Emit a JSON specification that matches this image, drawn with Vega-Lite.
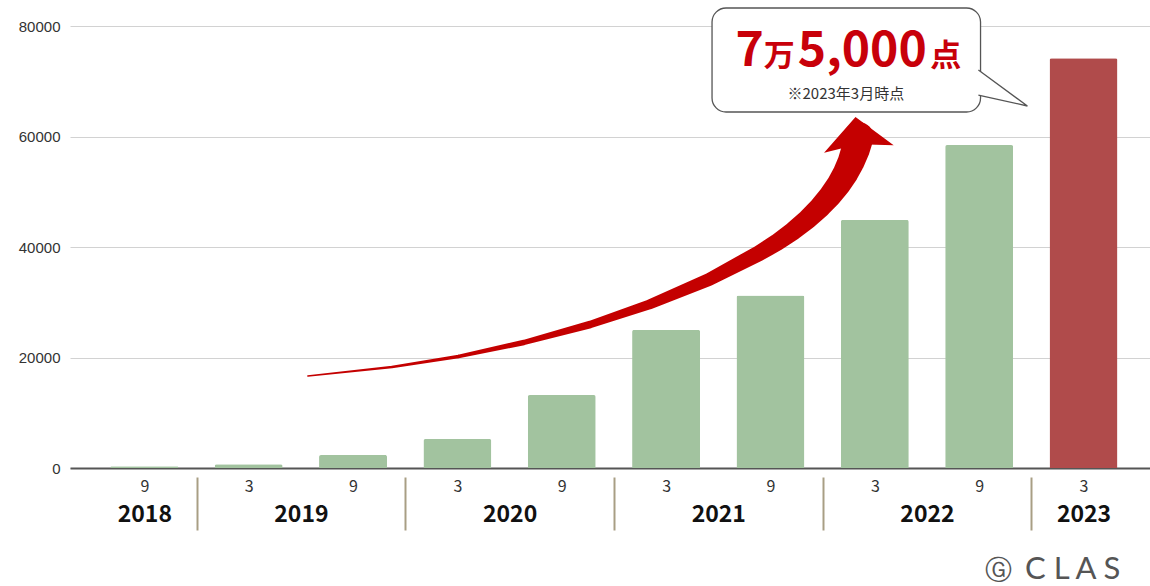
{
  "$schema": "https://vega.github.io/schema/vega-lite/v6.json",
  "width": 1080,
  "height": 442,
  "autosize": {"type": "none"},
  "padding": {"left": 70, "top": 26, "right": 0, "bottom": 118},
  "background": "white",
  "config": {"view": {"stroke": null}, "font": "Noto Sans CJK JP"},
  "datasets": {
    "bars": [
      {"idx": 0, "period": "2018-09", "value": 300, "kind": "past"},
      {"idx": 1, "period": "2019-03", "value": 700, "kind": "past"},
      {"idx": 2, "period": "2019-09", "value": 2350, "kind": "past"},
      {"idx": 3, "period": "2020-03", "value": 5250, "kind": "past"},
      {"idx": 4, "period": "2020-09", "value": 13200, "kind": "past"},
      {"idx": 5, "period": "2021-03", "value": 25000, "kind": "past"},
      {"idx": 6, "period": "2021-09", "value": 31200, "kind": "past"},
      {"idx": 7, "period": "2022-03", "value": 44900, "kind": "past"},
      {"idx": 8, "period": "2022-09", "value": 58450, "kind": "past"},
      {"idx": 9, "period": "2023-03", "value": 74150, "kind": "latest"}
    ],
    "arrow": [
      {"step": 1, "x": 1.5665, "y": 16652},
      {"step": 2, "x": 2.3734, "y": 18262},
      {"step": 3, "x": 3.0095, "y": 20181},
      {"step": 4, "x": 3.6361, "y": 22715},
      {"step": 5, "x": 4.2722, "y": 25973},
      {"step": 6, "x": 4.8418, "y": 29611},
      {"step": 7, "x": 5.4114, "y": 34118},
      {"step": 8, "x": 5.8861, "y": 38823},
      {"step": 9, "x": 6.057, "y": 40778},
      {"step": 10, "x": 6.2184, "y": 42932},
      {"step": 11, "x": 6.3513, "y": 44977},
      {"step": 12, "x": 6.4747, "y": 47204},
      {"step": 13, "x": 6.5696, "y": 49213},
      {"step": 14, "x": 6.6551, "y": 51366},
      {"step": 15, "x": 6.7215, "y": 53430},
      {"step": 16, "x": 6.7737, "y": 55475},
      {"step": 17, "x": 6.8165, "y": 57719},
      {"step": 18, "x": 6.8449, "y": 59891}
    ],
    "head": [{"x": 6.831, "y": 60633}],
    "box": [{"x1": 5.44, "x2": 8.013, "y1": 83258, "y2": 64434}],
    "tail": [{"x": 8.165, "y": 68778}],
    "big": [
      {"x": 5.801, "y": 72760, "t": "7"},
      {"x": 6.88, "y": 72760, "t": "5,000"}
    ],
    "mid": [
      {"x": 6.085, "y": 72760, "t": "万"},
      {"x": 7.68, "y": 72760, "t": "点"}
    ],
    "note": [{"x": 6.722, "y": 66787, "t": "※2023年3月時点"}],
    "logo": [{"x": 8.896, "y": -20090, "t": "C  L  A  S"}],
    "logomark": [{"x": 8.184, "y": -20090, "t": "Ⓖ"}]
  },
  "layer": [
    {
      "data": {"name": "bars"},
      "mark": {"type": "bar", "size": 68, "cornerRadiusTopLeft": 2, "cornerRadiusTopRight": 2},
      "encoding": {
        "x": {
          "field": "idx", "type": "quantitative",
          "scale": {"domain": [-0.6646, 9.589], "nice": false, "zero": false},
          "axis": {
            "orient": "bottom", "values": [0, 1, 2, 3, 4, 5, 6, 7, 8, 9],
            "labelExpr": "datum.value % 2 === 0 ? '9' : '3'",
            "grid": false, "ticks": false, "domain": true, "domainColor": "#555555", "domainWidth": 2,
            "labelFontSize": 16, "labelColor": "#333333", "labelPadding": 10, "labelFont": "Noto Sans CJK JP",
            "title": null
          }
        },
        "y": {
          "field": "value", "type": "quantitative",
          "scale": {"domain": [0, 80000], "nice": false},
          "axis": {
            "values": [0, 20000, 40000, 60000, 80000], "format": "d",
            "grid": true, "gridColor": "#d2d2d2", "gridWidth": 1, "ticks": false, "domain": false,
            "labelFontSize": 15, "labelColor": "#333333", "labelPadding": 10, "labelFont": "Liberation Sans",
            "title": null
          }
        },
        "color": {
          "field": "kind", "type": "nominal",
          "scale": {"domain": ["past", "latest"], "range": ["#a2c39f", "#b04b4b"]},
          "legend": null
        }
      }
    },
    {
      "data": {"name": "arrow"},
      "mark": {"type": "trail", "color": "#c40000"},
      "encoding": {
        "x": {
          "field": "x", "type": "quantitative",
          "axis": {
            "orient": "bottom", "values": [0, 1.5, 3.5, 5.5, 7.5, 9],
            "labelExpr": "'' + (2018 + ceil(datum.value / 2))",
            "grid": false, "ticks": false, "domain": false,
            "labelFontSize": 23, "labelFontWeight": "bold", "labelColor": "#111111", "labelPadding": 35,
            "labelFont": "Noto Sans CJK JP", "title": null
          }
        },
        "y": {"field": "y", "type": "quantitative", "axis": null},
        "order": {"field": "step", "type": "quantitative"},
        "size": {
          "field": "y", "type": "quantitative",
          "scale": {"type": "linear", "domain": [16000, 57000], "range": [1, 28], "zero": false},
          "legend": null
        }
      }
    },
    {
      "data": {"name": "head"},
      "mark": {"type": "point", "shape": "M-1,0.46L0,-0.46L1,0.46L0,0.32Z", "size": 4900, "filled": true, "fill": "#c40000", "opacity": 1, "angle": -6},
      "encoding": {
        "x": {
          "field": "x", "type": "quantitative",
          "axis": {
            "orient": "bottom", "values": [0.5, 2.5, 4.5, 6.5, 8.5],
            "labels": false, "domain": false, "grid": false, "ticks": true,
            "tickSize": 53, "tickWidth": 2, "tickColor": "#a89e84", "offset": 9, "title": null
          }
        },
        "y": {"field": "y", "type": "quantitative", "axis": null}
      }
    },
    {
      "data": {"name": "box"},
      "mark": {"type": "rect", "fill": "white", "stroke": "#555555", "strokeWidth": 1.3, "cornerRadius": 14},
      "encoding": {
        "x": {"field": "x1", "type": "quantitative", "axis": null},
        "x2": {"field": "x2"},
        "y": {"field": "y1", "type": "quantitative", "axis": null},
        "y2": {"field": "y2"}
      }
    },
    {
      "data": {"name": "tail"},
      "mark": {"type": "point", "shape": "M-0.5625,-0.5625L0.969,0.5625L-0.5625,0.219", "size": 4096, "filled": true, "fill": "white", "stroke": "#555555", "strokeWidth": 1.3, "opacity": 1},
      "encoding": {
        "x": {"field": "x", "type": "quantitative", "axis": null},
        "y": {"field": "y", "type": "quantitative", "axis": null}
      }
    },
    {
      "data": {"name": "big"},
      "mark": {"type": "text", "font": "Noto Sans CJK JP", "fontSize": 48, "fontWeight": "bold", "color": "#c8000a", "align": "center", "baseline": "alphabetic"},
      "encoding": {
        "x": {"field": "x", "type": "quantitative", "axis": null},
        "y": {"field": "y", "type": "quantitative", "axis": null},
        "text": {"field": "t"}
      }
    },
    {
      "data": {"name": "mid"},
      "mark": {"type": "text", "font": "Noto Sans CJK JP", "fontSize": 31, "fontWeight": "bold", "color": "#c8000a", "align": "center", "baseline": "alphabetic"},
      "encoding": {
        "x": {"field": "x", "type": "quantitative", "axis": null},
        "y": {"field": "y", "type": "quantitative", "axis": null},
        "text": {"field": "t"}
      }
    },
    {
      "data": {"name": "note"},
      "mark": {"type": "text", "font": "Noto Sans CJK JP", "fontSize": 15, "color": "#333333", "align": "center", "baseline": "alphabetic"},
      "encoding": {
        "x": {"field": "x", "type": "quantitative", "axis": null},
        "y": {"field": "y", "type": "quantitative", "axis": null},
        "text": {"field": "t"}
      }
    },
    {
      "data": {"name": "logo"},
      "mark": {"type": "text", "font": "Lato", "fontSize": 31, "color": "#555555", "align": "center", "baseline": "alphabetic"},
      "encoding": {
        "x": {"field": "x", "type": "quantitative", "axis": null},
        "y": {"field": "y", "type": "quantitative", "axis": null},
        "text": {"field": "t"}
      }
    },
    {
      "data": {"name": "logomark"},
      "mark": {"type": "text", "font": "DejaVu Sans", "fontSize": 27, "color": "#555555", "align": "center", "baseline": "alphabetic"},
      "encoding": {
        "x": {"field": "x", "type": "quantitative", "axis": null},
        "y": {"field": "y", "type": "quantitative", "axis": null},
        "text": {"field": "t"}
      }
    }
  ],
  "resolve": {"axis": {"x": "independent", "y": "independent"}}
}
